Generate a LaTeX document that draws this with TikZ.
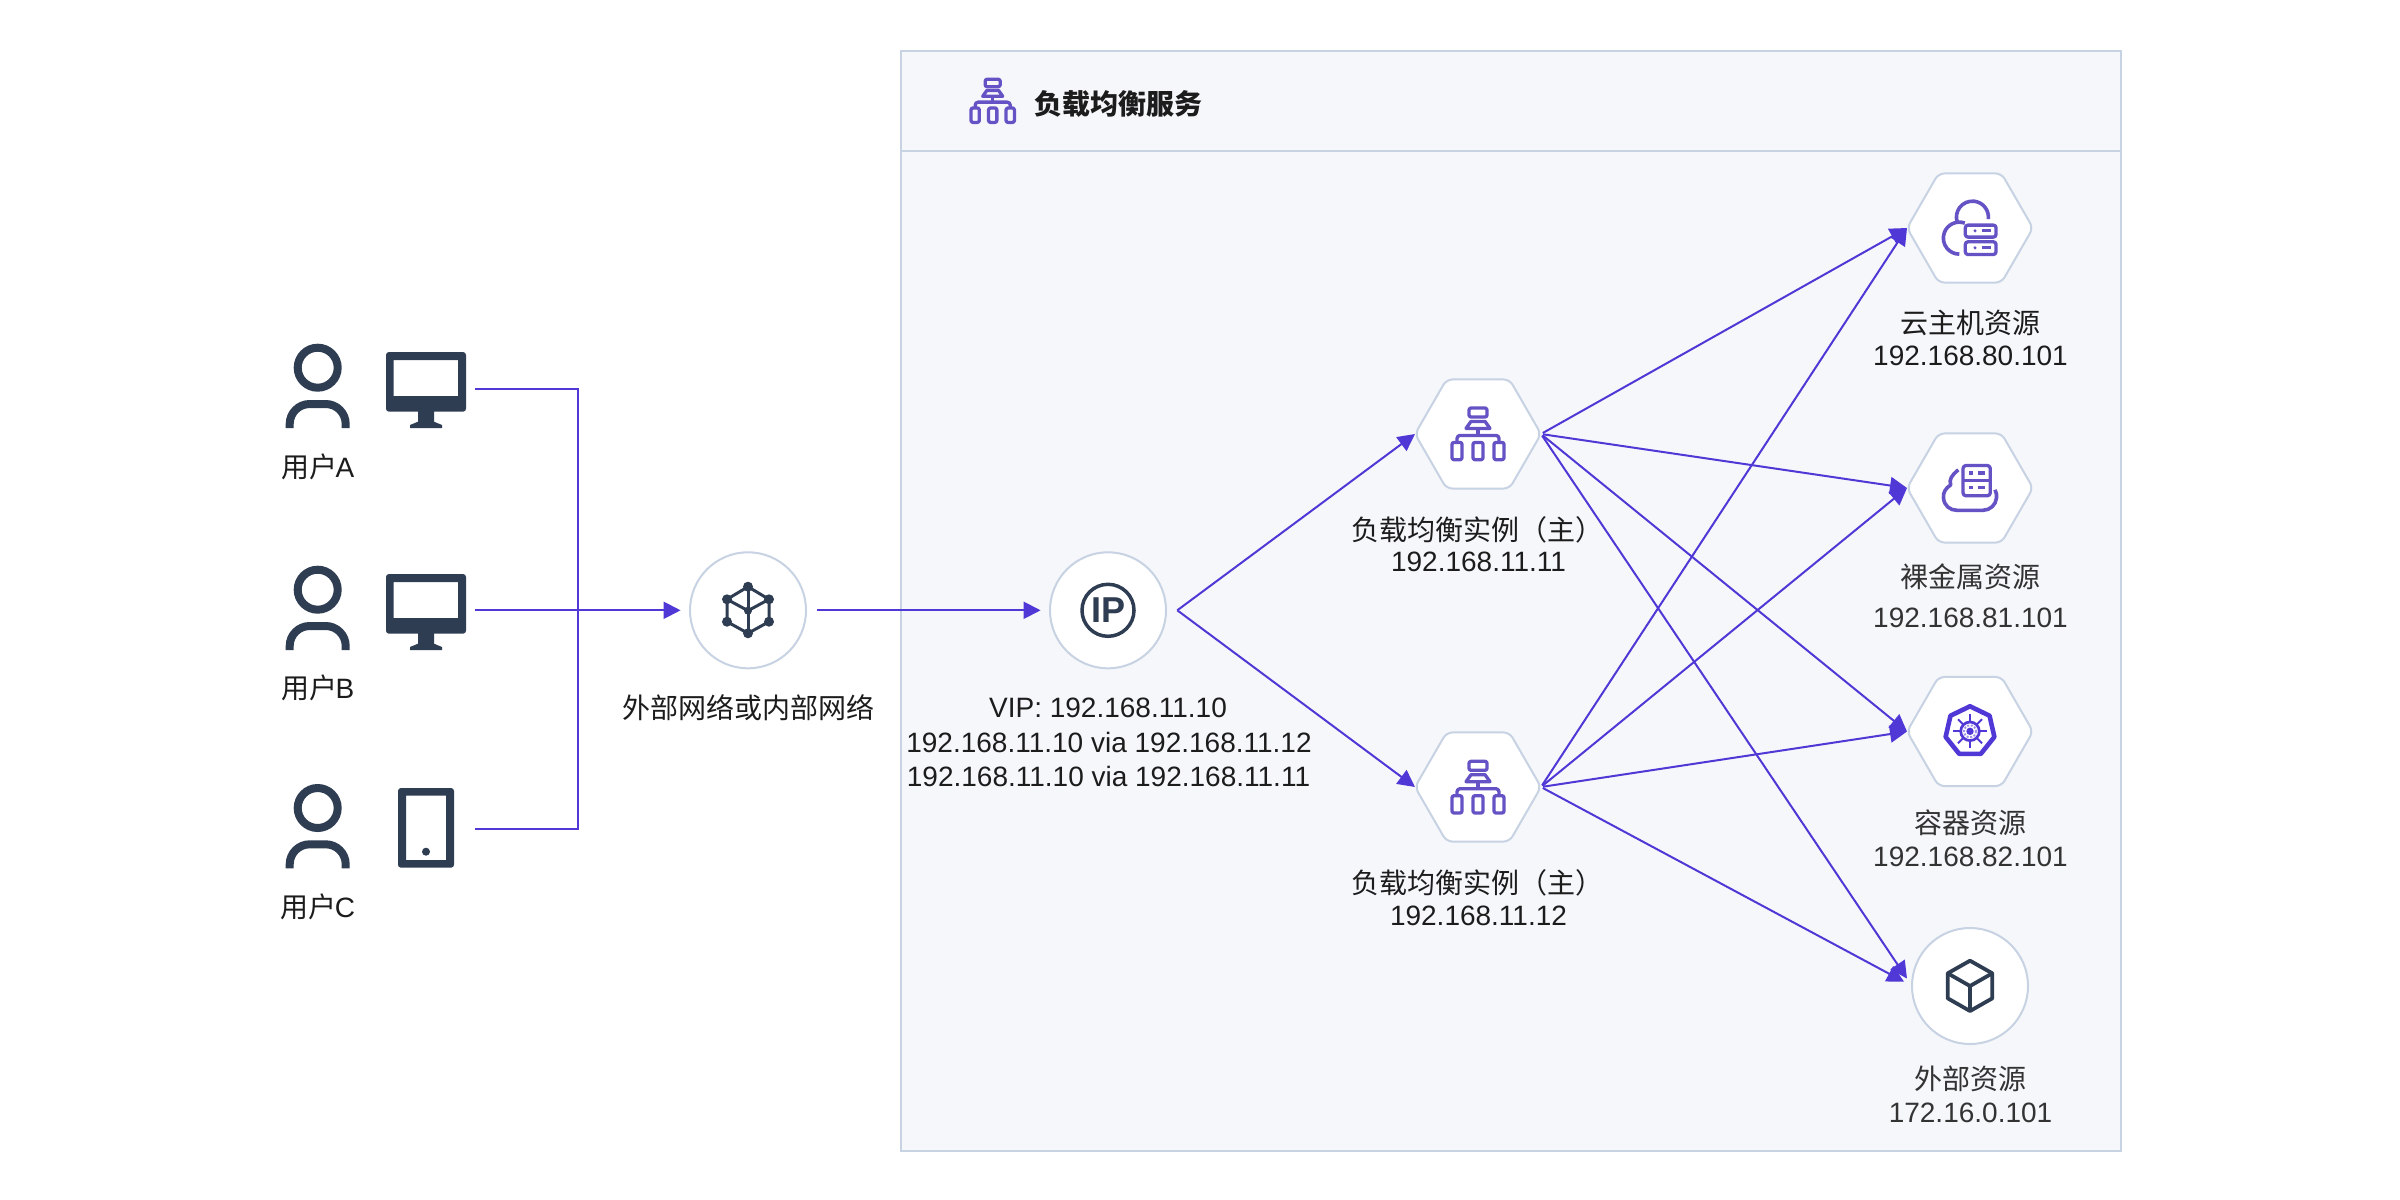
\documentclass[tikz,border=0pt]{standalone}
\usepackage{fontspec}
\setmainfont{Liberation Sans}
\newfontfamily\cjk{Noto Sans CJK SC}
\usetikzlibrary{arrows.meta,shapes.geometric}
\definecolor{conncol}{HTML}{5038D6}
\definecolor{edgecol}{HTML}{C7D2E3}
\definecolor{panelcol}{HTML}{F5F7FB}
\definecolor{darkcol}{HTML}{2F3D52}
\definecolor{purplecol}{HTML}{6553C6}
\definecolor{textcol}{HTML}{1C1C1C}
\definecolor{softcol}{HTML}{333333}
\tikzset{
  every pic/.style={yscale=-1},
  conn/.style={draw=conncol,line width=1pt},
  flow/.style={conn,-{Triangle[length=8.5pt,width=8.5pt]}},
  roundnode/.style={circle,draw=edgecol,fill=white,line width=1pt,minimum size=58pt,inner sep=0pt,outer sep=0pt},
  hexnode/.style={regular polygon,regular polygon sides=6,draw=edgecol,fill=white,line width=1pt,minimum size=63pt,inner sep=0pt,outer sep=0pt,rounded corners=3pt},
  lab/.style={inner sep=0pt,outer sep=0pt,text=textcol,font=\fontsize{14}{16}\selectfont},
  softlab/.style={lab,text=softcol},
  dk/.style={draw=darkcol,line width=4pt},
  pu/.style={draw=purplecol,line width=1.65pt,line join=round},
  person/.pic={
    \draw[dk] (0,0) circle (20);
    \draw[dk,rounded corners=10pt] (-28,60.3) -- (-28,36.3) -- (28,36.3) -- (28,60.3);
  },
  monitor/.pic={
    \fill[darkcol,even odd rule,rounded corners=1.5pt] (0,0) rectangle (80,59.7) [sharp corners] (7.7,8) rectangle (72,44);
    \fill[darkcol] (32,59) -- (48,59) -- (48,69.7) -- (56,73) -- (56,76) -- (24,76) -- (24,73) -- (32,69.7) -- cycle;
  },
  tablet/.pic={
    \fill[darkcol,even odd rule,rounded corners=1.5pt] (0,0) rectangle (56,79.7) [sharp corners] (8,7.7) rectangle (48,72);
    \fill[darkcol] (28,63.7) circle (4);
  },
  lbicon/.pic={
    \draw[pu,rounded corners=1pt] (-9,-25.7) rectangle (9,-16.7);
    \draw[pu] (-7,-12.3) -- (7,-12.3) -- (12,-5.3) -- (-12,-5.3) -- cycle;
    \draw[pu] (0,-5.3) -- (0,1.7);
    \draw[pu,rounded corners=1.5pt] (-21,8) -- (-21,1.7) -- (21,1.7) -- (21,8);
    \draw[pu,rounded corners=1pt] (-26,8.7) rectangle (-16,26);
    \draw[pu,rounded corners=1pt] (-5,8.7) rectangle (5,26);
    \draw[pu,rounded corners=1pt] (16,8.7) rectangle (26,26);
  },
  cloudsrv/.pic={
    \draw[pu,line width=1.8pt] (18.3,-8.7) arc[start angle=7,end angle=-197,radius=16];
    \draw[pu,line width=1.8pt] (-5.2,-4.7) arc[start angle=-70,end angle=-270,radius=16];
    \draw[pu,fill=white,rounded corners=1.3pt] (-4.7,-2.7) rectangle (26,9.3);
    \draw[pu,fill=white,rounded corners=1.3pt] (-4.7,14) rectangle (26,26.7);
    \fill[purplecol] (5,3) circle (1.7);
    \draw[pu] (11.7,3) -- (20.7,3);
    \fill[purplecol] (5,20) circle (1.7);
    \draw[pu] (11.7,20) -- (20.7,20);
  },
  bareicon/.pic={
    \draw[pu,rounded corners=1.5pt] (-7,-22.3) rectangle (20.3,8);
    \draw[pu] (-7,-7.3) -- (20.3,-7.3);
    \draw[pu] (-0.7,-14.7) -- (2.7,-14.7);
    \draw[pu] (8.3,-14.7) -- (15,-14.7);
    \draw[pu] (-0.7,-0.3) -- (2.7,-0.3);
    \draw[pu] (8.3,-0.3) -- (15,-0.3);
    \draw[pu,line width=1.8pt] (-11.7,-18) .. controls (-19,-12) and (-21,-8) .. (-19.3,-3)
      .. controls (-25,1) and (-27,5) .. (-26.5,10)
      .. controls (-26,18) and (-20,22.5) .. (-13,22.5) -- (13,22.5)
      .. controls (20,22.5) and (26,17) .. (26.5,10)
      .. controls (27,8) and (26.5,5) .. (25,2);
  },
  wheel/.pic={
    \draw[draw=conncol,line width=2.3pt,line join=round]
      (-90:25) -- (-38.6:25) -- (12.9:25) -- (64.3:25) -- (115.7:25) -- (167.1:25) -- (218.6:25) -- cycle;
    \foreach \a in {0,45,...,315}{\draw[draw=conncol,line width=1pt] (\a:9) -- (\a:17);}
    \draw[draw=conncol,line width=1.35pt] (0,0) circle (9.3);
    \draw[draw=conncol!55,line width=1pt,dash pattern=on 1pt off 0.8pt] (0,0) circle (6);
    \fill[conncol] (0,0) circle (3.7);
  },
  cubeicon/.pic={
    \draw[draw=darkcol,line width=1.9pt,line join=round]
      (0,-25.3) -- (22.3,-12.7) -- (22.3,12.3) -- (0,25) -- (-22.3,12.3) -- (-22.3,-12.7) -- cycle;
    \draw[draw=darkcol,line width=1.9pt,line join=round] (-22.3,-12.7) -- (0,0) -- (22.3,-12.7);
    \draw[draw=darkcol,line width=1.9pt] (0,0) -- (0,25);
  },
  meshicon/.pic={
    \draw[draw=darkcol,line width=1.5pt,line join=round]
      (0,-23.3) -- (21,-10.7) -- (21,11.7) -- (0,23.3) -- (-21,11.7) -- (-21,-10.7) -- cycle;
    \draw[draw=darkcol,line width=1.5pt] (0,-23.3) -- (0,23.3);
    \draw[draw=darkcol,line width=1.5pt] (-21,-10.7) -- (0,0.7) -- (21,-10.7);
    \foreach \p in {(0,-23.3),(21,-10.7),(21,11.7),(0,23.3),(-21,11.7),(-21,-10.7)}{\fill[darkcol] \p circle (5);}
    \fill[darkcol] (0,0.7) circle (4);
  },
}
\begin{document}
\begin{tikzpicture}[x=0.5pt,y=0.5pt,yscale=-1]
\useasboundingbox (0,0) rectangle (2400,1200);
\fill[white] (0,0) rectangle (2400,1200);
% frame
\draw[edgecol,fill=panelcol,line width=1pt] (901,51) rectangle (2121,1151);
\draw[edgecol,line width=1pt] (901,151) -- (2121,151);
\pic[scale=0.835] at (992.7,100.7) {lbicon};
\node[lab,font=\fontsize{14}{16}\selectfont\cjk\bfseries] (title) at (1118,104) {负载均衡服务};
% users
\pic at (317.7,367.7) {person};
\pic at (386,352) {monitor};
\node[lab] (ua) at (318,467) {{\cjk 用户}\kern-1pt A};
\pic at (317.7,589.7) {person};
\pic at (386,574) {monitor};
\node[lab] (ub) at (318,688) {{\cjk 用户}\kern-1pt B};
\pic at (317.7,808) {person};
\pic at (398,788) {tablet};
\node[lab] (uc) at (318,907) {{\cjk 用户}\kern-1pt C};
\coordinate (deva) at (475,389);
\coordinate (devb) at (475,610.3);
\coordinate (devc) at (475,829);
\coordinate (trunkc) at (578,829);
% network and VIP
\node[roundnode] (net) at (748,610.3) {};
\pic at (748,610) {meshicon};
\node[lab,font=\fontsize{14}{16}\selectfont\cjk] (netl) at (748,708) {外部网络或内部网络};
\node[roundnode] (vip) at (1108,610.3) {};
\draw[darkcol,line width=1.75pt] (vip.center) circle (26);
\node[inner sep=0pt,text=darkcol,font=\fontsize{18}{20}\selectfont\bfseries] (iptxt) at (vip.center) {IP};
\coordinate (vipout) at (1177.3,610.3);
\node[lab] (vip1) at (1108,708) {VIP: 192.168.11.10};
\node[lab] (vip2) at (1109,742.7) {192.168.11.10 via 192.168.11.12};
\node[lab] (vip3) at (1108.5,776) {192.168.11.10 via 192.168.11.11};
% balancers
\node[hexnode] (lba) at (1478,434) {};
\pic at (1478,433.7) {lbicon};
\node[lab] (lbal) at (1477,530) {{\cjk 负载均衡实例（主）}};
\node[lab] (lbai) at (1478.5,562) {192.168.11.11};
\node[hexnode] (lbb) at (1478,787) {};
\pic at (1478,787) {lbicon};
\node[lab] (lbbl) at (1477,883) {{\cjk 负载均衡实例（主）}};
\node[lab] (lbbi) at (1478.5,916) {192.168.11.12};
% resources
\node[hexnode] (res1) at (1970,228) {};
\pic at (1970,227.8) {cloudsrv};
\node[lab] (res1l) at (1970,323) {{\cjk 云主机资源}};
\node[lab] (res1i) at (1970.5,356) {192.168.80.101};
\node[hexnode] (res2) at (1970,488) {};
\pic at (1970,487.8) {bareicon};
\node[softlab] (res2l) at (1970,577) {{\cjk 裸金属资源}};
\node[softlab] (res2i) at (1970.5,618) {192.168.81.101};
\node[hexnode] (res3) at (1970,731.5) {};
\pic at (1970,731.3) {wheel};
\node[softlab] (res3l) at (1970,823) {{\cjk 容器资源}};
\node[softlab] (res3i) at (1970.5,857) {192.168.82.101};
\node[roundnode] (res4) at (1970,986) {};
\pic at (1970,986) {cubeicon};
\node[softlab] (res4l) at (1970,1079) {{\cjk 外部资源}};
\node[softlab] (res4i) at (1970.5,1113) {172.16.0.101};
% connectors
\draw[conn] (deva) -| (trunkc) -- (devc);
\draw[flow,shorten >=4.7pt] (devb) -- (net.west);
\draw[flow,shorten <=5.5pt,shorten >=4.7pt] (net.east) -- (vip.west);
\draw[flow] (vipout) -- (lba.west);
\draw[flow] (vipout) -- (lbb.west);
\foreach \s in {lba,lbb}{
  \foreach \t in {res1,res2,res3}{
    \draw[flow,shorten <=1pt] (\s.east) -- (\t.west);
  }
  \draw[flow,shorten <=1pt,shorten >=4.5pt] (\s.east) -- (res4.west);
}
\end{tikzpicture}
\end{document}
